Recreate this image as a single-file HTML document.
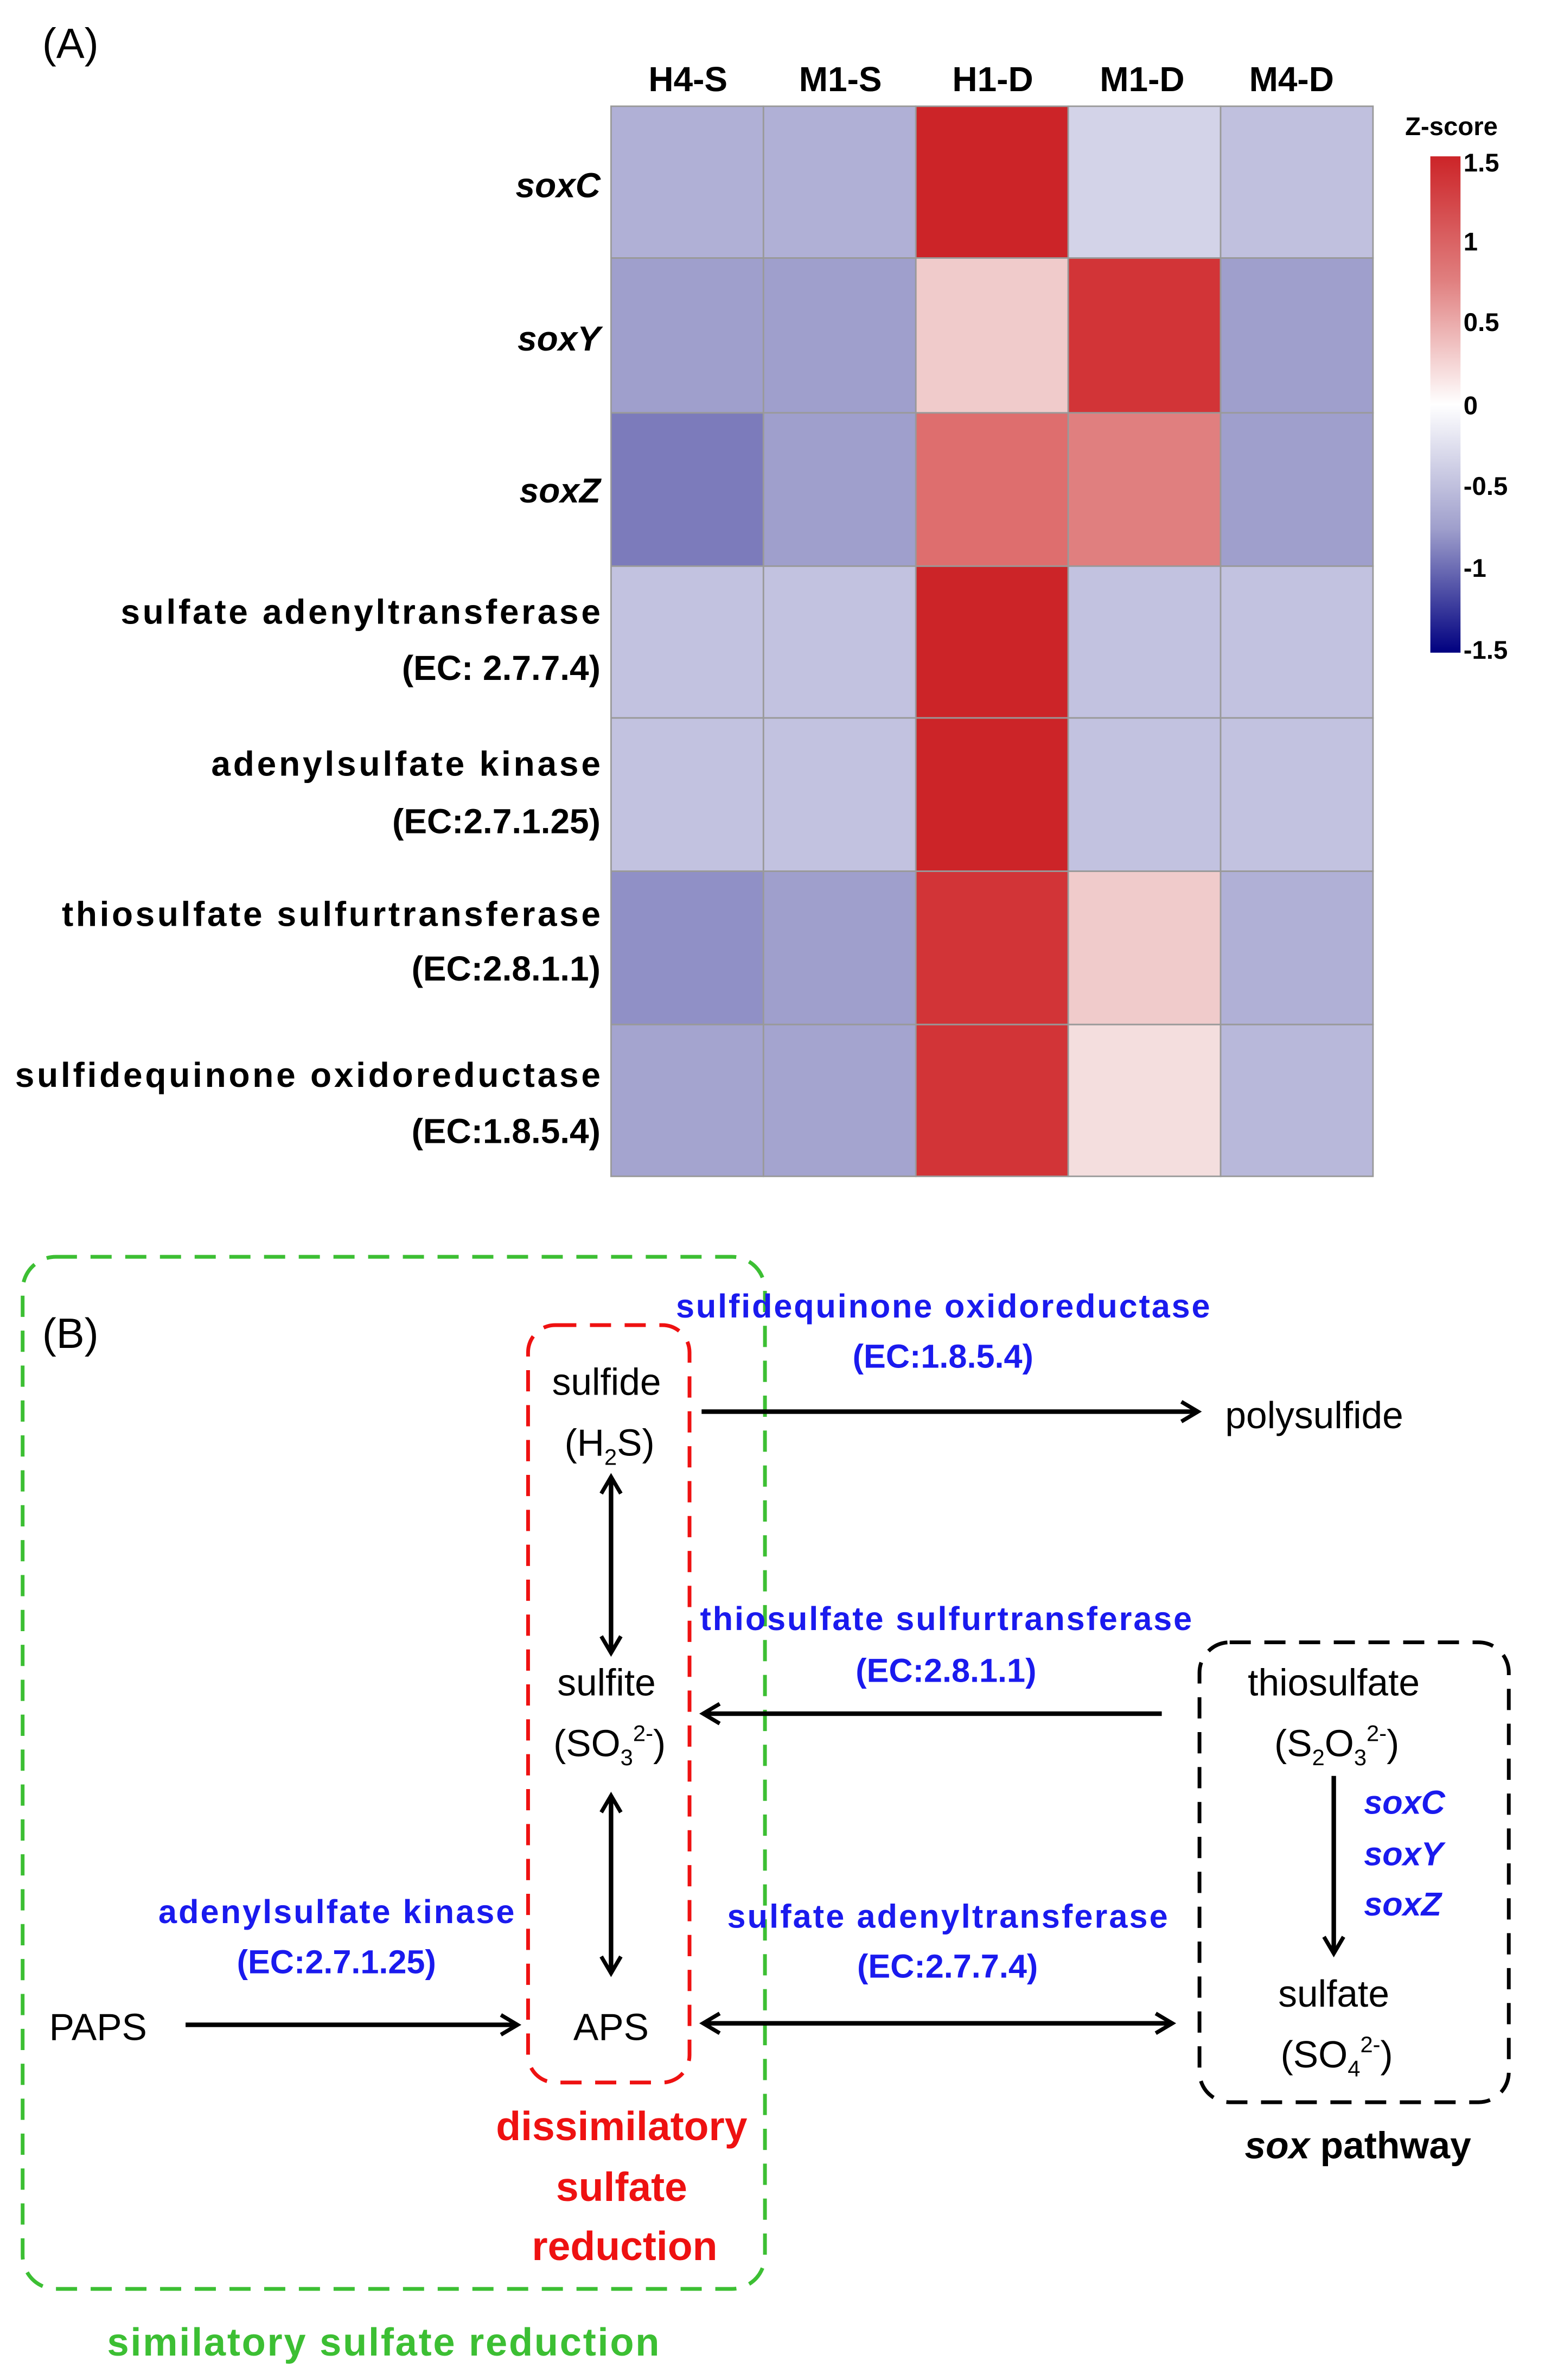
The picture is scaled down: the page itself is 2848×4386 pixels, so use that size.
<!DOCTYPE html>
<html><head><meta charset="utf-8"><style>html,body{margin:0;padding:0;background:#fff}svg{display:block}</style></head>
<body>
<svg width="2848" height="4386" viewBox="0 0 1024 1568" preserveAspectRatio="none" xmlns="http://www.w3.org/2000/svg" font-family="Liberation Sans, sans-serif">
<defs>
<linearGradient id="zg" x1="0" y1="0" x2="0" y2="1">
<stop offset="0" stop-color="#cc2428"/>
<stop offset="0.25" stop-color="#e07f7f"/>
<stop offset="0.5" stop-color="#ffffff"/>
<stop offset="0.75" stop-color="#9f9fcc"/>
<stop offset="1" stop-color="#000080"/>
</linearGradient>
<marker id="ah" markerWidth="16" markerHeight="16" refX="13" refY="8" orient="auto" markerUnits="userSpaceOnUse"><path d="M2,1.5 L13,8 L2,14.5" fill="none" stroke="#000" stroke-width="2.6"/></marker>
<marker id="as" markerWidth="16" markerHeight="16" refX="3" refY="8" orient="auto" markerUnits="userSpaceOnUse"><path d="M14,1.5 L3,8 L14,14.5" fill="none" stroke="#000" stroke-width="2.6"/></marker>
</defs>
<text x="28" y="38" font-size="28">(A)</text>
<g font-size="23" font-weight="bold" text-anchor="middle">
<text x="456" y="60">H4-S</text><text x="557" y="60">M1-S</text><text x="658" y="60">H1-D</text><text x="757" y="60">M1-D</text><text x="856" y="60">M4-D</text>
</g>
<g stroke="#999" stroke-width="1">
<rect x="405" y="70" width="101" height="100" fill="#b0b0d6"/><rect x="506" y="70" width="101" height="100" fill="#b0b0d6"/><rect x="607" y="70" width="101" height="100" fill="#cc2428"/><rect x="708" y="70" width="101" height="100" fill="#d3d3e8"/><rect x="809" y="70" width="101" height="100" fill="#c0c0de"/>
<rect x="405" y="170" width="101" height="102" fill="#9f9fcc"/><rect x="506" y="170" width="101" height="102" fill="#9f9fcc"/><rect x="607" y="170" width="101" height="102" fill="#f0cbcb"/><rect x="708" y="170" width="101" height="102" fill="#d23437"/><rect x="809" y="170" width="101" height="102" fill="#9f9fcc"/>
<rect x="405" y="272" width="101" height="101" fill="#7c7bbb"/><rect x="506" y="272" width="101" height="101" fill="#9f9fcc"/><rect x="607" y="272" width="101" height="101" fill="#de6e6e"/><rect x="708" y="272" width="101" height="101" fill="#e07f7f"/><rect x="809" y="272" width="101" height="101" fill="#9f9fcc"/>
<rect x="405" y="373" width="101" height="100" fill="#c2c2e0"/><rect x="506" y="373" width="101" height="100" fill="#c2c2e0"/><rect x="607" y="373" width="101" height="100" fill="#cc2428"/><rect x="708" y="373" width="101" height="100" fill="#c2c2e0"/><rect x="809" y="373" width="101" height="100" fill="#c2c2e0"/>
<rect x="405" y="473" width="101" height="101" fill="#c2c2e0"/><rect x="506" y="473" width="101" height="101" fill="#c2c2e0"/><rect x="607" y="473" width="101" height="101" fill="#cc2428"/><rect x="708" y="473" width="101" height="101" fill="#c2c2e0"/><rect x="809" y="473" width="101" height="101" fill="#c2c2e0"/>
<rect x="405" y="574" width="101" height="101" fill="#9090c6"/><rect x="506" y="574" width="101" height="101" fill="#9f9fcc"/><rect x="607" y="574" width="101" height="101" fill="#d23437"/><rect x="708" y="574" width="101" height="101" fill="#f0cbcb"/><rect x="809" y="574" width="101" height="101" fill="#b0b0d6"/>
<rect x="405" y="675" width="101" height="100" fill="#a4a4cf"/><rect x="506" y="675" width="101" height="100" fill="#a4a4cf"/><rect x="607" y="675" width="101" height="100" fill="#d23437"/><rect x="708" y="675" width="101" height="100" fill="#f4dede"/><rect x="809" y="675" width="101" height="100" fill="#b8b8da"/>
</g>
<g font-size="23" font-weight="bold" text-anchor="end">
<text x="398" y="130" font-style="italic">soxC</text>
<text x="398" y="231" font-style="italic">soxY</text>
<text x="398" y="331" font-style="italic">soxZ</text>
<text x="398" y="411" textLength="318">sulfate adenyltransferase</text>
<text x="398" y="448">(EC: 2.7.7.4)</text>
<text x="398" y="511" textLength="258">adenylsulfate kinase</text>
<text x="398" y="549">(EC:2.7.1.25)</text>
<text x="398" y="610" textLength="357">thiosulfate sulfurtransferase</text>
<text x="398" y="646">(EC:2.8.1.1)</text>
<text x="398" y="716" textLength="388">sulfidequinone oxidoreductase</text>
<text x="398" y="753">(EC:1.8.5.4)</text>
</g>
<text x="962" y="89" font-size="17" font-weight="bold" text-anchor="middle">Z-score</text>
<rect x="948" y="103" width="20" height="327" fill="url(#zg)"/>
<g font-size="17" font-weight="bold">
<text x="970" y="113">1.5</text><text x="970" y="165">1</text><text x="970" y="218">0.5</text><text x="970" y="273">0</text><text x="970" y="326">-0.5</text><text x="970" y="380">-1</text><text x="970" y="434">-1.5</text>
</g>
<!-- Part B -->
<rect x="15" y="828" width="492" height="680" rx="22" fill="none" stroke="#3cbf33" stroke-width="2.5" stroke-dasharray="14,9"/>
<rect x="350" y="873" width="107" height="499" rx="18" fill="none" stroke="#ee1111" stroke-width="2.5" stroke-dasharray="14,9"/>
<rect x="795" y="1082" width="205" height="303" rx="20" fill="none" stroke="#000" stroke-width="2.5" stroke-dasharray="14,9"/>
<text x="28" y="888" font-size="28">(B)</text>
<g font-size="25" text-anchor="middle">
<text x="402" y="919">sulfide</text>
<text x="404" y="959">(H<tspan font-size="15" dy="6">2</tspan><tspan dy="-6">S)</tspan></text>
<text x="402" y="1117">sulfite</text>
<text x="404" y="1157">(SO<tspan font-size="15" dy="6">3</tspan><tspan font-size="15" dy="-16">2-</tspan><tspan dy="10">)</tspan></text>
<text x="405" y="1344">APS</text>
<text x="65" y="1344">PAPS</text>
<text x="884" y="1117">thiosulfate</text>
<text x="886" y="1157">(S<tspan font-size="15" dy="6">2</tspan><tspan dy="-6">O</tspan><tspan font-size="15" dy="6">3</tspan><tspan font-size="15" dy="-16">2-</tspan><tspan dy="10">)</tspan></text>
<text x="884" y="1322">sulfate</text>
<text x="886" y="1362">(SO<tspan font-size="15" dy="6">4</tspan><tspan font-size="15" dy="-16">2-</tspan><tspan dy="10">)</tspan></text>
</g>
<text x="812" y="941" font-size="25">polysulfide</text>
<g stroke="#000" stroke-width="3" fill="none">
<line x1="465" y1="930" x2="794" y2="930" marker-end="url(#ah)"/>
<line x1="405" y1="973" x2="405" y2="1089" marker-start="url(#as)" marker-end="url(#ah)"/>
<line x1="405" y1="1183" x2="405" y2="1300" marker-start="url(#as)" marker-end="url(#ah)"/>
<line x1="123" y1="1334" x2="343" y2="1334" marker-end="url(#ah)"/>
<line x1="770" y1="1129" x2="466" y2="1129" marker-end="url(#ah)"/>
<line x1="466" y1="1333" x2="777" y2="1333" marker-start="url(#as)" marker-end="url(#ah)"/>
<line x1="884" y1="1170" x2="884" y2="1287" marker-end="url(#ah)"/>
</g>
<g font-size="22" font-weight="bold" fill="#1a1aee" text-anchor="middle">
<text x="625" y="868" textLength="354">sulfidequinone oxidoreductase</text>
<text x="625" y="901">(EC:1.8.5.4)</text>
<text x="627" y="1074" textLength="326">thiosulfate sulfurtransferase</text>
<text x="627" y="1108">(EC:2.8.1.1)</text>
<text x="628" y="1270" textLength="292">sulfate adenyltransferase</text>
<text x="628" y="1303">(EC:2.7.7.4)</text>
<text x="223" y="1267" textLength="236">adenylsulfate kinase</text>
<text x="223" y="1300">(EC:2.7.1.25)</text>
</g>
<g font-size="22" font-weight="bold" font-style="italic" fill="#1a1aee">
<text x="904" y="1195">soxC</text><text x="904" y="1229">soxY</text><text x="904" y="1262">soxZ</text>
</g>
<text x="900" y="1422" font-size="25" font-weight="bold" text-anchor="middle"><tspan font-style="italic">sox</tspan> pathway</text>
<g font-size="27" font-weight="bold" fill="#ee1111" text-anchor="middle">
<text x="412" y="1410">dissimilatory</text><text x="412" y="1450">sulfate</text><text x="414" y="1489">reduction</text>
</g>
<text x="254" y="1552" font-size="26" font-weight="bold" fill="#3cbf33" text-anchor="middle" textLength="366">similatory sulfate reduction</text>
</svg>
</body></html>
